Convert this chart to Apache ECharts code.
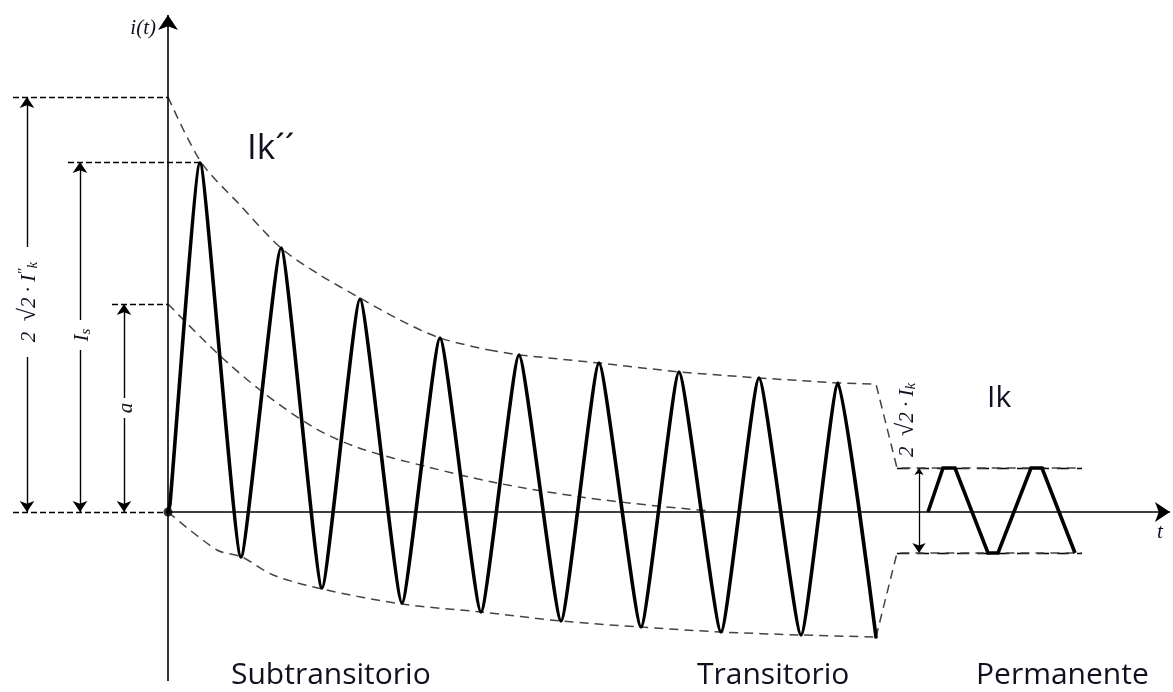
<!DOCTYPE html>
<html>
<head>
<meta charset="utf-8">
<script src="https://cdn.jsdelivr.net/npm/echarts@6/dist/echarts.min.js"></script>
<style>html,body{margin:0;padding:0;background:#fff}#c{width:1173px;height:692px}</style>
</head>
<body>
<div id="c"></div>
<script>
// ---- data (t, i) in diagram units; origin = short-circuit instant ----
const waveT = [0, 2, 32, 73, 113, 154, 192, 234, 272, 313, 351, 393, 431, 473, 511, 553, 591, 633, 670, 708];
const waveI = [0, 8, 349, -45, 264, -76, 213, -91, 174, -100, 157, -109, 149, -115, 140, -120, 134, -123, 129, -125];
const steadyT = [760, 775, 787, 820, 830, 863, 874, 907];
const steadyI = [0, 44, 44, -41, -41, 44, 44, -41];
const upperCurveT = [0, 33, 72, 113, 152, 192, 232, 272, 321];
const upperCurveI = [415, 350, 307, 264, 237, 214, 192, 174, 162];
const upperTailT = [321, 351, 431, 511, 591, 670, 708, 729, 914];
const upperTailI = [162, 157, 149, 140, 134, 129, 128, 44, 44];
const lowerCurveT = [0, 49, 74, 105, 154, 234, 313, 393, 472, 553, 633, 708];
const lowerCurveI = [0, -38, -45, -63, -77, -92, -100, -109, -115, -120, -123, -125];
const lowerTailT = [708, 729, 914];
const lowerTailI = [-125, -41, -41];
const dcT = [0, 49, 92, 145, 191, 260, 329, 413, 489, 543];
const dcI = [208, 159, 122, 85, 64, 45, 29, 15, 6, 1];
// levels marked on the left: 2√2·I''k, Is, a, zero
const levelPeakEnv = 415, levelIs = 350, levelA = 208;
const categories = ['Subtransitorio', 'Transitorio', 'Permanente'];
const tickLabels = ['i(t)', 't'];

const zip = (a, b) => a.map((v, k) => [v, b[k]]);
const chart = echarts.init(document.getElementById('c'));

const axisStyle = {color: '#000', width: 1.6, opacity: 1};
const refDash = {color: '#000', width: 1.3, type: [6, 3], opacity: 1};
const envDash = {color: '#444', width: 1.5, type: [9, 6]};
const ssDash = {color: '#000', width: 1.4, type: [12, 8], opacity: 1};
const serif = '"Liberation Serif", "DejaVu Serif", serif';
const sans = '"Open Sans", "Noto Sans", sans-serif';
const ink = '#101020';
const mathRich = {
  n: {fontFamily: serif, fontStyle: 'italic', fontSize: 21, color: ink},
  r: {fontFamily: serif, fontSize: 24, color: ink, fontWeight: 'bold'},
  sup: {fontFamily: serif, fontStyle: 'italic', fontSize: 15, color: ink, padding: [0, 0, 9, 0]},
  sub: {fontFamily: serif, fontStyle: 'italic', fontSize: 15, color: ink, padding: [9, 0, 0, 0]}
};

function txt(x, y, text, opt) {
  return {value: [x, y], label: Object.assign({show: true, formatter: text, position: 'inside', opacity: 1}, opt)};
}

const labels = [
  txt(-12, 484, '{n|' + tickLabels[0] + '}', {align: 'right', verticalAlign: 'middle', rich: mathRich}),
  txt(992, -20, '{n|' + tickLabels[1] + '}', {align: 'center', verticalAlign: 'middle', rich: {n: Object.assign({}, mathRich.n, {fontSize: 21})}}),
  txt(79, 363, 'Ik´´', {align: 'left', verticalAlign: 'middle', fontFamily: sans, fontSize: 35, color: ink}),
  txt(819, 114, 'Ik', {align: 'left', verticalAlign: 'middle', fontFamily: sans, fontSize: 30, color: ink}),
  txt(63, -163, categories[0], {align: 'left', verticalAlign: 'middle', fontFamily: sans, fontSize: 30, color: ink}),
  txt(529, -163, categories[1], {align: 'left', verticalAlign: 'middle', fontFamily: sans, fontSize: 30, color: ink}),
  txt(808, -163, categories[2], {align: 'left', verticalAlign: 'middle', fontFamily: sans, fontSize: 30, color: ink}),
  txt(-139, 210, '{n|2  }{r|√}{n|2 · I}{sup|″}{sub|k}', {align: 'center', verticalAlign: 'middle', rotate: 90, rich: mathRich}),
  txt(-86, 177, '{n|I}{sub|s}', {align: 'center', verticalAlign: 'middle', rotate: 90, rich: mathRich}),
  txt(-42, 104, '{n|a}', {align: 'center', verticalAlign: 'middle', rotate: 90, rich: mathRich}),
  txt(739, 92, '{n|2  }{r|√}{n|2 · I}{sub|k}', {align: 'center', verticalAlign: 'middle', rotate: 90, rich: mathRich})
];

const seg = (a, b) => ({coords: [a, b]});

chart.setOption({
  animation: false,
  grid: {left: 0, right: 0, top: 0, bottom: 0},
  xAxis: {type: 'value', min: -168, max: 1005, show: false},
  yAxis: {type: 'value', min: -180, max: 512, show: false},
  series: [
    // axes with arrows
    {type: 'lines', coordinateSystem: 'cartesian2d', symbol: ['none', 'arrow'], symbolSize: [11, 15],
     lineStyle: axisStyle, z: 5,
     data: [seg([0, -169], [0, 497]), seg([0, 0], [1002, 0])]},
    // reference dashed lines on the left
    {type: 'lines', coordinateSystem: 'cartesian2d', symbol: 'none', lineStyle: refDash,
     data: [seg([-155, levelPeakEnv], [0, levelPeakEnv]), seg([-100, levelIs], [33, levelIs]),
            seg([-56, levelA], [0, levelA]), seg([-155, 0], [0, 0])]},
    // dimension arrows
    {type: 'lines', coordinateSystem: 'cartesian2d', symbol: ['none', 'arrow'], symbolSize: [8, 11],
     lineStyle: {color: '#000', width: 1.4, opacity: 1},
     data: [seg([-141, 265], [-141, levelPeakEnv]), seg([-141, 155], [-141, 0]),
            seg([-88, 192], [-88, levelIs]), seg([-88, 162], [-88, 0]),
            seg([-44, 114], [-44, levelA]), seg([-44, 94], [-44, 0])]},
    {type: 'lines', coordinateSystem: 'cartesian2d', symbol: ['arrow', 'arrow'], symbolSize: [7, 10],
     lineStyle: {color: '#000', width: 1.3, opacity: 1},
     data: [seg([751, 44], [751, -41])]},
    // envelopes
    {type: 'line', data: zip(upperCurveT, upperCurveI), smooth: 0.3, showSymbol: false, lineStyle: envDash},
    {type: 'line', data: zip(upperTailT, upperTailI), showSymbol: false, lineStyle: envDash},
    {type: 'line', data: zip(lowerCurveT, lowerCurveI), smooth: 0.3, showSymbol: false, lineStyle: envDash},
    {type: 'line', data: zip(lowerTailT, lowerTailI), showSymbol: false, lineStyle: envDash},
    {type: 'line', data: zip(dcT, dcI), smooth: 0.3, showSymbol: false, lineStyle: envDash},
    // steady state limits
    {type: 'lines', coordinateSystem: 'cartesian2d', symbol: 'none', lineStyle: ssDash,
     data: [seg([729, 44], [914, 44]), seg([729, -41], [914, -41])]},
    // short-circuit current
    {type: 'line', data: zip(waveT, waveI), smooth: 0.15, showSymbol: false, z: 6,
     lineStyle: {color: '#000', width: 3.6, join: 'round', cap: 'round'}},
    {type: 'line', data: zip(steadyT, steadyI), showSymbol: false, z: 6,
     lineStyle: {color: '#000', width: 3.6, join: 'miter'}},
    // origin dot
    {type: 'scatter', data: [[0, 0]], symbolSize: 9, itemStyle: {color: '#000'}, z: 7},
    // texts
    {type: 'scatter', data: labels, symbolSize: 0, itemStyle: {color: 'transparent'}, z: 8}
  ]
});
</script>
</body>
</html>
